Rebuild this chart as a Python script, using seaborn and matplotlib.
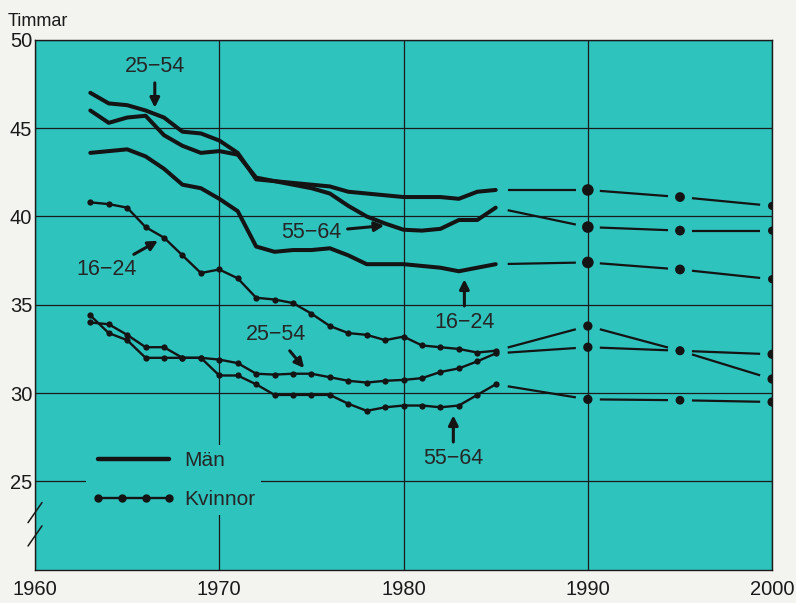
import numpy as np
import pandas as pd
import seaborn as sns
import matplotlib.pyplot as plt
from matplotlib.lines import Line2D

# Arbetstid per vecka, 1963-1985 (observerat) och prognos 1990-2000
years = list(range(1963, 1986))

men_25_54 = [47.0, 46.4, 46.3, 46.0, 45.6, 44.8, 44.7, 44.3, 43.6, 42.1, 42.0, 41.9,
             41.8, 41.7, 41.4, 41.3, 41.2, 41.1, 41.1, 41.1, 41.0, 41.4, 41.5]
men_55_64 = [46.0, 45.3, 45.6, 45.7, 44.6, 44.0, 43.6, 43.7, 43.5, 42.2, 42.0, 41.8,
             41.6, 41.3, 40.6, 40.0, 39.6, 39.25, 39.2, 39.3, 39.8, 39.8, 40.5]
men_16_24 = [43.6, 43.7, 43.8, 43.4, 42.7, 41.8, 41.6, 41.0, 40.3, 38.3, 38.0, 38.1,
             38.1, 38.2, 37.8, 37.3, 37.3, 37.3, 37.2, 37.1, 36.9, 37.1, 37.3]

women_16_24 = [40.8, 40.7, 40.5, 39.4, 38.8, 37.8, 36.8, 37.0, 36.5, 35.4, 35.3, 35.1,
               34.5, 33.8, 33.4, 33.3, 33.0, 33.2, 32.7, 32.6, 32.5, 32.3, 32.4]
women_25_54 = [34.0, 33.9, 33.3, 32.6, 32.6, 32.0, 32.0, 31.9, 31.7, 31.1, 31.05, 31.1,
               31.1, 30.9, 30.7, 30.6, 30.7, 30.75, 30.85, 31.2, 31.4, 31.8, 32.25]
women_55_64 = [34.4, 33.4, 33.0, 32.0, 32.0, 32.0, 32.0, 31.0, 31.0, 30.5, 29.9, 29.9,
               29.9, 29.9, 29.4, 29.0, 29.2, 29.3, 29.3, 29.2, 29.3, 29.9, 30.5]

proj_years = [1990, 1995, 2000]
men_proj = {"25-54": [41.5, 41.1, 40.6], "55-64": [39.4, 39.2, 39.2], "16-24": [37.4, 37.0, 36.45]}
women_proj = {"16-24": [33.8, 32.4, 30.8], "25-54": [32.6, 32.4, 32.2], "55-64": [29.65, 29.6, 29.5]}

men = {"25-54": men_25_54, "55-64": men_55_64, "16-24": men_16_24}
women = {"16-24": women_16_24, "25-54": women_25_54, "55-64": women_55_64}

teal = "#2fc3be"
sns.set_style("white")
plt.rcParams['font.family'] = ['Liberation Sans', 'DejaVu Sans']

fig = plt.figure(figsize=(7.96, 6.03), dpi=100, facecolor="#f3f3ef")
ax = fig.add_axes([0.044, 0.055, 0.926, 0.879])
ax.set_facecolor(teal)

# observed series
for name, vals in men.items():
    sns.lineplot(x=years, y=vals, ax=ax, color="#141414", lw=2.9, zorder=3)
for name, vals in women.items():
    sns.lineplot(x=years, y=vals, ax=ax, color="#141414", lw=1.7, marker="o",
                 markersize=4.5, markeredgewidth=0, zorder=3)

# projections: broken segments between the forecast points
def draw_projection(last, proj, lw, gap=0.13):
    xs = [1985] + proj_years
    ys = [last] + proj
    for i in range(len(xs) - 1):
        x0, x1, y0, y1 = xs[i], xs[i + 1], ys[i], ys[i + 1]
        dx, dy = x1 - x0, y1 - y0
        ax.plot([x0 + gap * dx, x1 - gap * dx], [y0 + gap * dy, y1 - gap * dy],
                color="#141414", lw=lw, solid_capstyle="butt", zorder=3)

for name in men:
    draw_projection(men[name][-1], men_proj[name], 1.6)
    sns.scatterplot(x=proj_years, y=men_proj[name], ax=ax, color="#141414",
                    s=[70, 50, 35], edgecolor="none", zorder=4, legend=False)
for name in women:
    draw_projection(women[name][-1], women_proj[name], 1.6)
    sns.scatterplot(x=proj_years, y=women_proj[name], ax=ax, color="#141414",
                    s=[45, 40, 45], edgecolor="none", zorder=4, legend=False)

ax.set_xlim(1960, 2000)
ax.set_ylim(20, 50)
ax.set_xticks([1960, 1970, 1980, 1990, 2000])
ax.set_yticks([25, 30, 35, 40, 45, 50])
ax.tick_params(axis="both", length=0, labelsize=14.5, colors="#1a1a1a")
ax.tick_params(axis="x", pad=7)
ax.tick_params(axis="y", pad=2)
ax.grid(True, color="#1a1a1a", lw=0.9)
ax.set_axisbelow(True)
ax.set_xlabel("")
ax.set_ylabel("")
for sp in ax.spines.values():
    sp.set_color("#1a1a1a")
    sp.set_linewidth(1.0)

fig.text(0.01, 0.964, "Timmar", fontsize=13, color="#1a1a1a", va="center")

# axis break marks on the y axis
for yb in [0.108, 0.064]:
    ax.plot([-0.0095, 0.0095], [yb - 0.019, yb + 0.019], transform=ax.transAxes,
            color="#1a1a1a", lw=1.1, clip_on=False)

# age labels with arrows
arrow = dict(arrowstyle="-|>", color="#141414", lw=2.2, mutation_scale=14)
fs = 15.5
ax.annotate("25\u221254", xy=(1966.5, 46.0), xytext=(1966.5, 48.5), ha="center",
            va="center", fontsize=fs, arrowprops=arrow)
ax.annotate("55\u221264", xy=(1979.1, 39.5), xytext=(1975.0, 39.1), ha="center",
            va="center", fontsize=fs, arrowprops=arrow)
ax.annotate("16\u221224", xy=(1983.3, 36.6), xytext=(1983.3, 34.0), ha="center",
            va="center", fontsize=fs, arrowprops=arrow)
ax.annotate("16\u221224", xy=(1966.8, 38.7), xytext=(1963.9, 37.0), ha="center",
            va="center", fontsize=fs, arrowprops=arrow)
ax.annotate("25\u221254", xy=(1974.7, 31.3), xytext=(1973.1, 33.3), ha="center",
            va="center", fontsize=fs, arrowprops=arrow)
ax.annotate("55\u221264", xy=(1982.7, 28.9), xytext=(1982.7, 26.3), ha="center",
            va="center", fontsize=fs, arrowprops=arrow)

handles = [Line2D([], [], color="#141414", lw=3.2),
           Line2D([], [], color="#141414", lw=1.7, marker="o", markersize=5)]
leg = ax.legend(handles, ["Män", "Kvinnor"], loc="upper left",
                bbox_to_anchor=(0.055, 0.255), fontsize=15, frameon=True,
                facecolor=teal, edgecolor="none", framealpha=1, numpoints=4,
                handlelength=4.0, handletextpad=0.4, labelspacing=0.95,
                borderpad=0.3)

fig.savefig("out.png", dpi=100, facecolor=fig.get_facecolor())
